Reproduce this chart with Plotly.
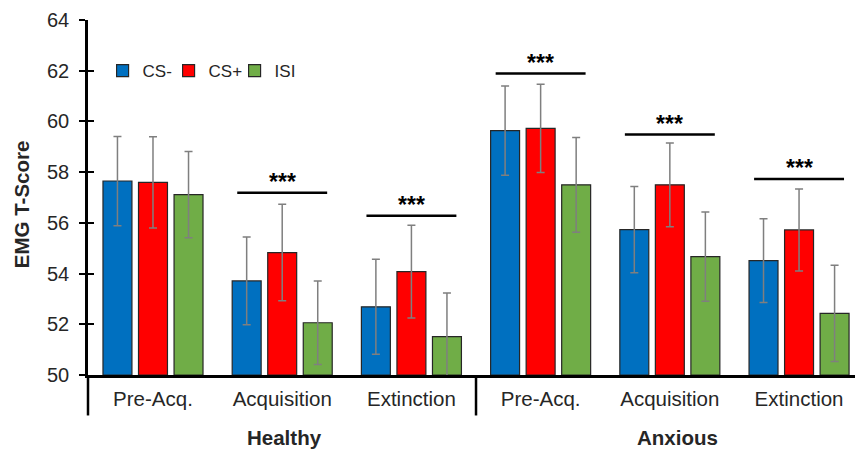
import plotly.graph_objects as go

# ---- data ----
categories = ["Pre-Acq.", "Acquisition", "Extinction", "Pre-Acq.", "Acquisition", "Extinction"]
groups = ["Healthy", "Anxious"]
series_names = ["CS-", "CS+", "ISI"]
cs_minus = [57.65, 53.71, 52.69, 59.64, 55.73, 54.51]
cs_plus = [57.60, 54.83, 54.08, 59.73, 57.50, 55.72]
isi = [57.11, 52.06, 51.51, 57.50, 54.67, 52.43]
cs_minus_err = [1.76, 1.73, 1.87, 1.76, 1.70, 1.65]
cs_plus_err = [1.80, 1.90, 1.83, 1.74, 1.65, 1.62]
isi_err = [1.70, 1.65, 1.72, 1.87, 1.76, 1.90]
sig_y = [None, 57.19, 56.28, 61.89, 59.48, 57.73]
sig_text = "***"
y_ticks = [50, 52, 54, 56, 58, 60, 62, 64]

colors = ["#0070C0", "#FF0000", "#70AD47"]
FONT = "Liberation Sans, Arial, sans-serif"
TXT = "#262626"

x_idx = list(range(len(categories)))
xmin, xmax = -0.503, 5.433

fig = go.Figure()
for name, vals, errs, col in zip(series_names, [cs_minus, cs_plus, isi],
                                  [cs_minus_err, cs_plus_err, isi_err], colors):
    fig.add_trace(go.Bar(
        x=x_idx, y=[v - 50 for v in vals], base=50, name=name,
        marker=dict(color=col, line=dict(color="#262626", width=1.2)),
        error_y=dict(type="data", array=errs, visible=True, color="#7F7F7F",
                     thickness=1.5, width=4),
    ))

# invisible trace on overlay axis for inside ticks
fig.add_trace(go.Scatter(x=[None], y=[None], yaxis="y2", showlegend=False, hoverinfo="skip"))

shapes = []
annotations = []
for i, sy in enumerate(sig_y):
    if sy is None:
        continue
    shapes.append(dict(type="line", xref="x", yref="y", x0=i - 0.348, x1=i + 0.348,
                       y0=sy, y1=sy, line=dict(color="black", width=2.5)))
    annotations.append(dict(x=i, y=sy, xref="x", yref="y", text="<b>" + sig_text + "</b>",
                            showarrow=False, yanchor="bottom", yshift=-4,
                            font=dict(family=FONT, size=23, color="black")))

# group separators (multi-level axis)
sep_bottom = -0.114
shapes.append(dict(type="line", xref="paper", yref="paper", x0=0, x1=0, y0=0, y1=sep_bottom,
                   line=dict(color="black", width=2.5)))
shapes.append(dict(type="line", xref="x", yref="paper", x0=2.5, x1=2.5, y0=0, y1=sep_bottom,
                   line=dict(color="black", width=2.5)))

# group labels
for gi, g in enumerate(groups):
    annotations.append(dict(x=1 + 3 * gi, y=-0.176, xref="x", yref="paper",
                            text="<b>" + g + "</b>", showarrow=False, yanchor="middle",
                            xshift=2 + 6 * gi,
                            font=dict(family=FONT, size=20.5, color=TXT)))

annotations.append(dict(x=-0.0874, y=0.481, xref="paper", yref="paper",
                        text="<b>EMG T-Score</b>", textangle=-90, showarrow=False,
                        xanchor="center", yanchor="middle",
                        font=dict(family=FONT, size=20.5, color=TXT)))

fig.update_layout(
    width=855, height=451,
    margin=dict(l=88, r=0, t=20, b=76, pad=0),
    plot_bgcolor="white", paper_bgcolor="white",
    barmode="group", bargap=0.175, bargroupgap=0.185,
    font=dict(family=FONT, color=TXT),
    showlegend=True,
    legend=dict(orientation="h", x=0.019, y=0.856, xanchor="left", yanchor="middle",
                font=dict(family=FONT, size=17, color=TXT), bgcolor="rgba(0,0,0,0)",
                entrywidth=21, entrywidthmode="pixels", itemclick=False),
    xaxis=dict(range=[xmin, xmax], tickvals=x_idx, ticktext=categories, ticks="",
               showline=True, linecolor="black", linewidth=2.5, showgrid=False,
               zeroline=False, tickfont=dict(family=FONT, size=20.5, color=TXT),
               ticklabelstandoff=4),
    yaxis=dict(range=[50, 64], tickvals=y_ticks, ticks="outside", ticklen=6, tickwidth=2,
               tickcolor="black", showline=True, linecolor="black", linewidth=2.5,
               showgrid=False, zeroline=False,
               tickfont=dict(family=FONT, size=20, color=TXT), ticklabelstandoff=6),
    yaxis2=dict(range=[50, 64], tickvals=y_ticks, ticks="inside", ticklen=6, tickwidth=2,
                tickcolor="black", overlaying="y", side="left", showticklabels=False,
                showline=False, showgrid=False, zeroline=False),
    shapes=shapes,
    annotations=annotations,
)

fig.write_html("out.html")
